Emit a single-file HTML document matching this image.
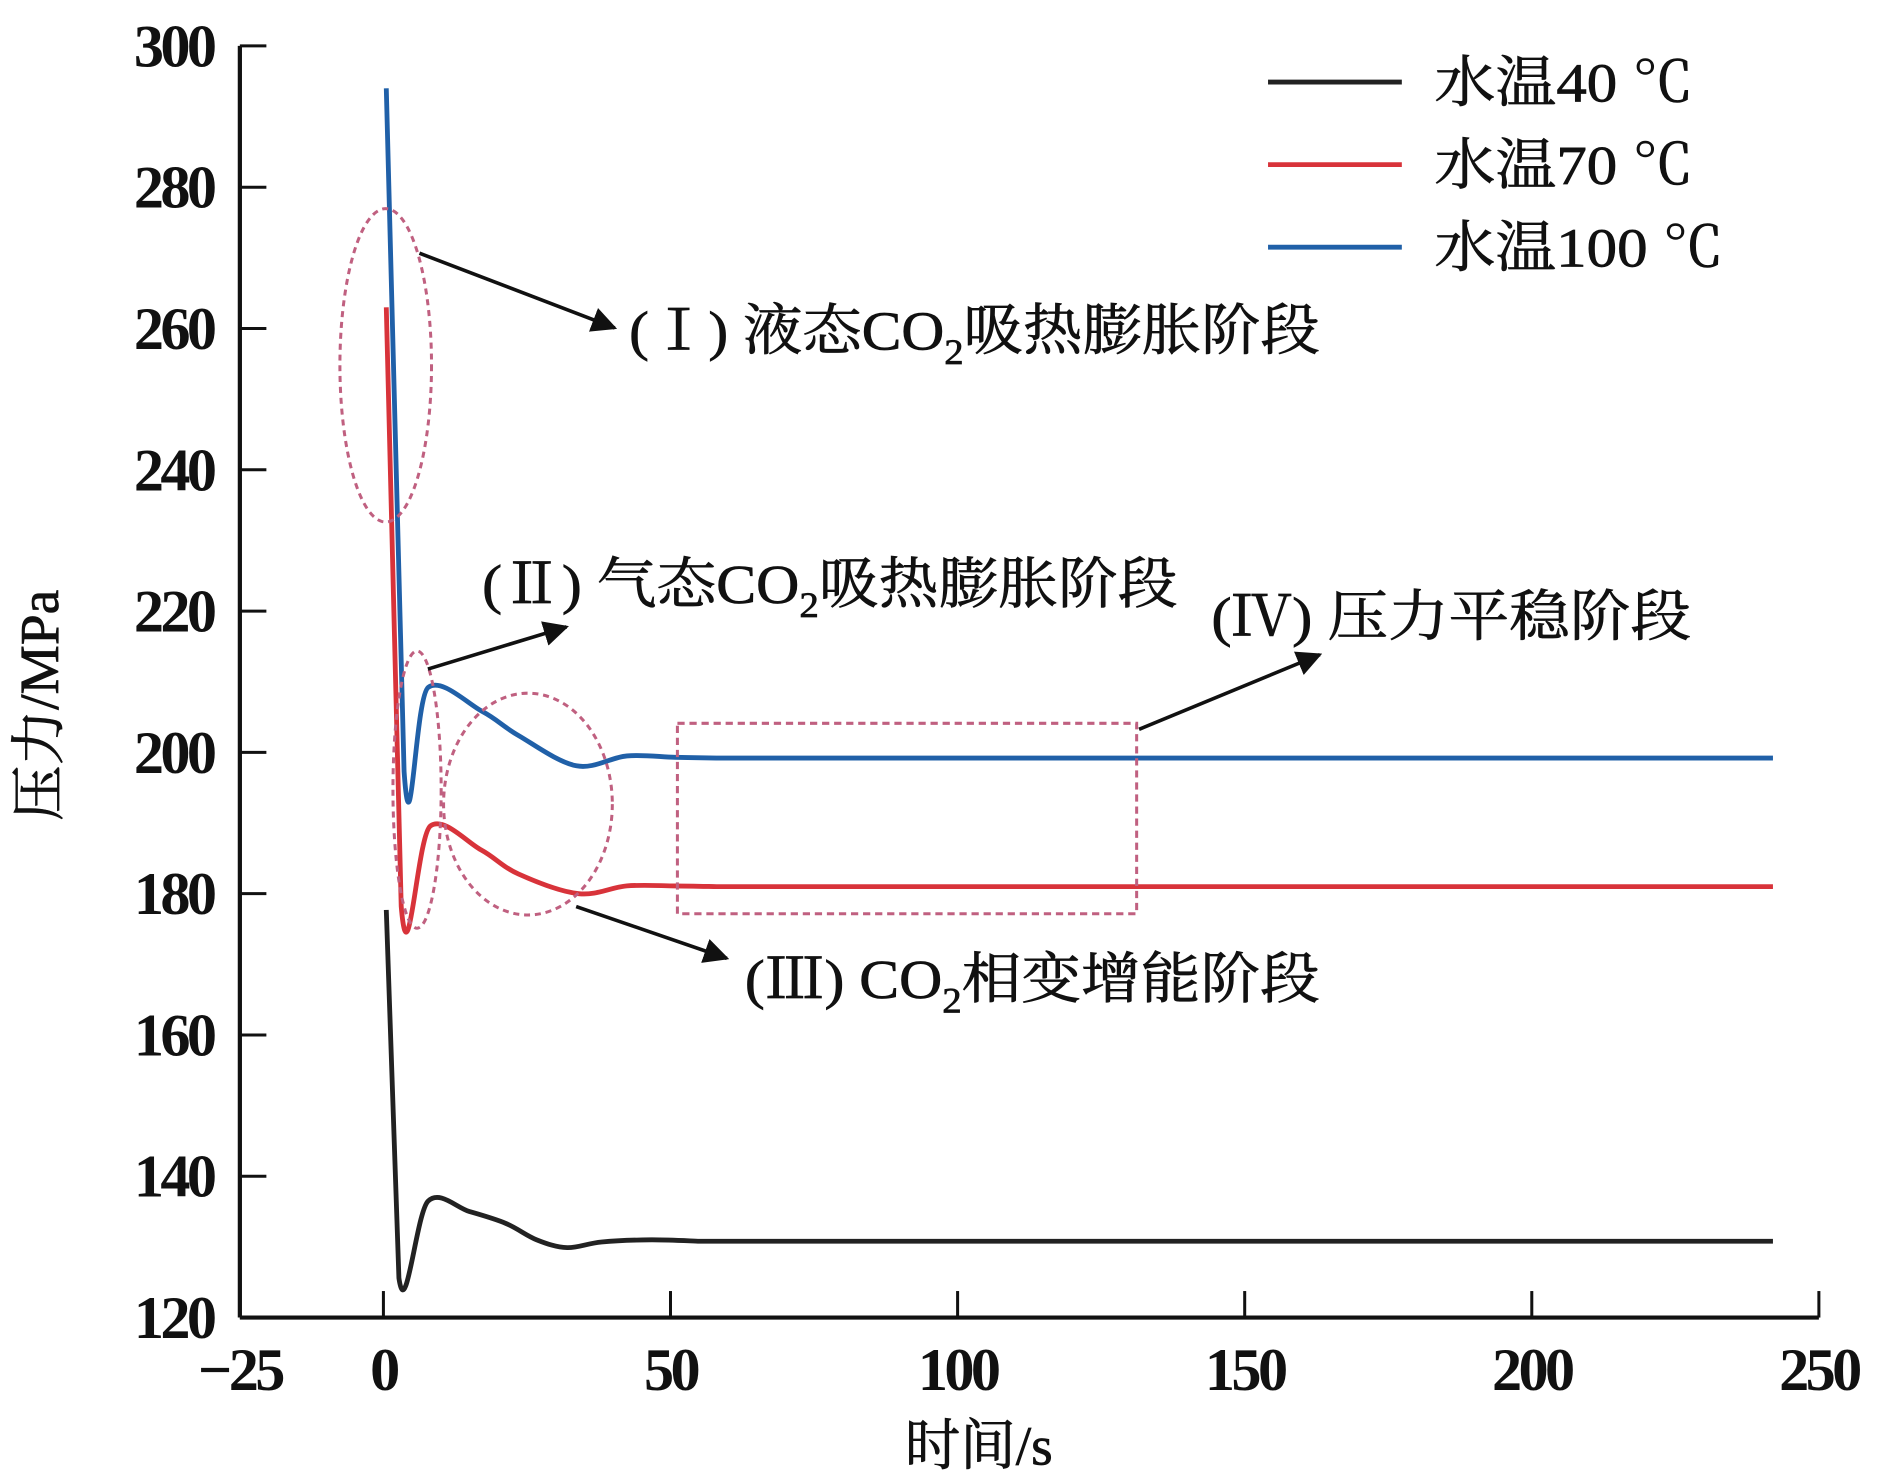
<!DOCTYPE html>
<html><head><meta charset="utf-8"><style>
html,body{margin:0;padding:0;background:#fff}
svg{display:block}
text{font-family:"Liberation Serif","Noto Serif CJK SC",serif;fill:#111}
.ann{stroke:#111;stroke-width:0.6}
</style></head><body>
<svg id="chart" width="1890" height="1484" viewBox="0 0 1568 1231" xmlns="http://www.w3.org/2000/svg">
<defs><marker id="ah" viewBox="0 0 10 10" refX="9" refY="5" markerWidth="7" markerHeight="7" orient="auto"><path d="M0,0 L10,5 L0,10 z" fill="#111"/></marker></defs>
<g id="axes"></g>
<g id="series"></g>
<g id="annot">
<ellipse cx="320" cy="303" rx="38" ry="130" fill="none" stroke="#c06080" stroke-width="2.5" stroke-dasharray="5,4"/>
<line x1="348" y1="210" x2="510" y2="272" stroke="#111" stroke-width="3" marker-end="url(#ah)"/>
<text class="ann" x="522" y="290" font-size="46" textLength="573" lengthAdjust="spacingAndGlyphs">(Ⅰ) 液态CO<tspan font-size="30" dy="12">2</tspan><tspan dy="-12">吸热膨胀阶段</tspan></text>
<ellipse cx="346" cy="655" rx="20" ry="115" fill="none" stroke="#c06080" stroke-width="2.5" stroke-dasharray="5,4"/>
<line x1="355" y1="555" x2="470" y2="520" stroke="#111" stroke-width="3" marker-end="url(#ah)"/>
<text class="ann" x="400" y="500" font-size="46" textLength="577" lengthAdjust="spacingAndGlyphs">(Ⅱ) 气态CO<tspan font-size="30" dy="12">2</tspan><tspan dy="-12">吸热膨胀阶段</tspan></text>
<ellipse cx="438" cy="667" rx="70" ry="92" fill="none" stroke="#c06080" stroke-width="2.5" stroke-dasharray="5,4"/>
<line x1="478" y1="752" x2="603" y2="795" stroke="#111" stroke-width="3" marker-end="url(#ah)"/>
<text class="ann" x="618" y="828" font-size="46" textLength="477" lengthAdjust="spacingAndGlyphs">(Ⅲ) CO<tspan font-size="30" dy="12">2</tspan><tspan dy="-12">相变增能阶段</tspan></text>
<rect x="562" y="600" width="381" height="158" fill="none" stroke="#c06080" stroke-width="2.5" stroke-dasharray="6,4"/>
<line x1="945" y1="605" x2="1095" y2="543" stroke="#111" stroke-width="3" marker-end="url(#ah)"/>
<text class="ann" x="1005" y="527" font-size="46" textLength="398" lengthAdjust="spacingAndGlyphs">(Ⅳ) 压力平稳阶段</text>
</g>
<g id="legend"></g>
<text class="ann" x="812" y="1215" font-size="46" text-anchor="middle">时间/s</text>
<text class="ann" transform="translate(48,585) rotate(-90)" font-size="46" text-anchor="middle">压力/MPa</text>
</svg>
<script>
const xTicks=[-25,0,50,100,150,200,250];
const yTicks=[120,140,160,180,200,220,240,260,280,300];
const seriesNames=["水温40 ℃","水温70 ℃","水温100 ℃"];
const legendWidths=[215,215,240];
const seriesColors=["#222","#d8333a","#2060a8"];
const t40=[0.5,2.7,7.8,15,21.4,26.7,32,38,46.6,55,242];
const p40=[177.7,125.6,136.5,135,133.3,131,129.9,130.7,131,130.8,130.8];
const t70=[0.5,3.1,8.2,17,23.5,34,42.4,50.8,58,242];
const p70=[263,178.2,189.6,186.2,182.8,180,181.1,181.1,181,181];
const t100=[0.5,3.6,7.8,17.2,23.5,33.6,42.4,50.8,58,242];
const p100=[294,197.3,209.2,205.8,202.4,198.1,199.5,199.3,199.2,199.2];
const NS="http://www.w3.org/2000/svg";
const X0=199,X1=1509,XMIN=-25,XMAX=250,Y0=1093,Y1=38,YMIN=120,YMAX=300;
function sx(v){return X0+(v-XMIN)/(XMAX-XMIN)*(X1-X0);}
function sy(v){return Y0-(v-YMIN)/(YMAX-YMIN)*(Y0-Y1);}
function mk(tag,attrs,parent){const e=document.createElementNS(NS,tag);for(const k in attrs)e.setAttribute(k,attrs[k]);parent.appendChild(e);return e;}
const ax=document.getElementById('axes');
let l=mk('line',{x1:X0,y1:Y0,x2:X1,y2:Y0,stroke:'#111','stroke-width':3.5},ax);


l=mk('line',{x1:X0,y1:Y0,x2:X0,y2:Y1,stroke:'#111','stroke-width':3.5},ax);


xTicks.forEach(v=>{const x=sx(v);
 if(v!==XMIN){const t=mk('line',{x1:x,y1:Y0,x2:x,y2:Y0-22,stroke:'#111','stroke-width':2.5},ax);
 
 }
 const tx=mk('text',{x:x,y:Y0+60,'font-size':50,'text-anchor':'middle','font-weight':'bold','letter-spacing':-3},ax);
 tx.textContent=v<0?'−'+Math.abs(v):v;
 
 });
yTicks.forEach(v=>{const y=sy(v);
 const t=mk('line',{x1:X0,y1:y,x2:X0+22,y2:y,stroke:'#111','stroke-width':2.5},ax);
 
 
 const tx=mk('text',{x:X0-22,y:y+17,'font-size':50,'text-anchor':'end','font-weight':'bold','letter-spacing':-3},ax);
 tx.textContent=v;
 
 });
const sg=document.getElementById('series');
const data=[[t40,p40],[t70,p70],[t100,p100]];
const ids=['line-40c','line-70c','line-100c'];
data.forEach((d,i)=>{
 const pts=d[0].map((t,j)=>[sx(t),sy(d[1][j])]);
 let s='M'+pts[0][0]+','+pts[0][1];
 const n=pts.length;
 for(let j=1;j<n;j++){
  if(j===n-1||j===1){s+=' L'+pts[j][0]+','+pts[j][1];continue;}
  const p0=pts[j-2],p1=pts[j-1],p2=pts[j],p3=pts[Math.min(j+1,n-2)];
  const k=1/6;
  s+=' C'+(p1[0]+(p2[0]-p0[0])*k)+','+(p1[1]+(p2[1]-p0[1])*k)+' '+(p2[0]-(p3[0]-p1[0])*k)+','+(p2[1]-(p3[1]-p1[1])*k)+' '+p2[0]+','+p2[1];
 }
 const p=mk('path',{d:s,fill:'none',stroke:seriesColors[i],'stroke-width':4,'stroke-linejoin':'round'},sg);
 
 
});
const lg=document.getElementById('legend');
seriesNames.forEach((n,i)=>{const y=68+i*68.5;
 const ln=mk('line',{x1:1052,y1:y,x2:1163,y2:y,stroke:seriesColors[i],'stroke-width':4},lg);
 
 
 const tx=mk('text',{x:1190,y:y+16,'font-size':46,'class':'ann',textLength:legendWidths[i],lengthAdjust:'spacingAndGlyphs'},lg);
 tx.textContent=n;
 
 });
</script>
</body></html>
